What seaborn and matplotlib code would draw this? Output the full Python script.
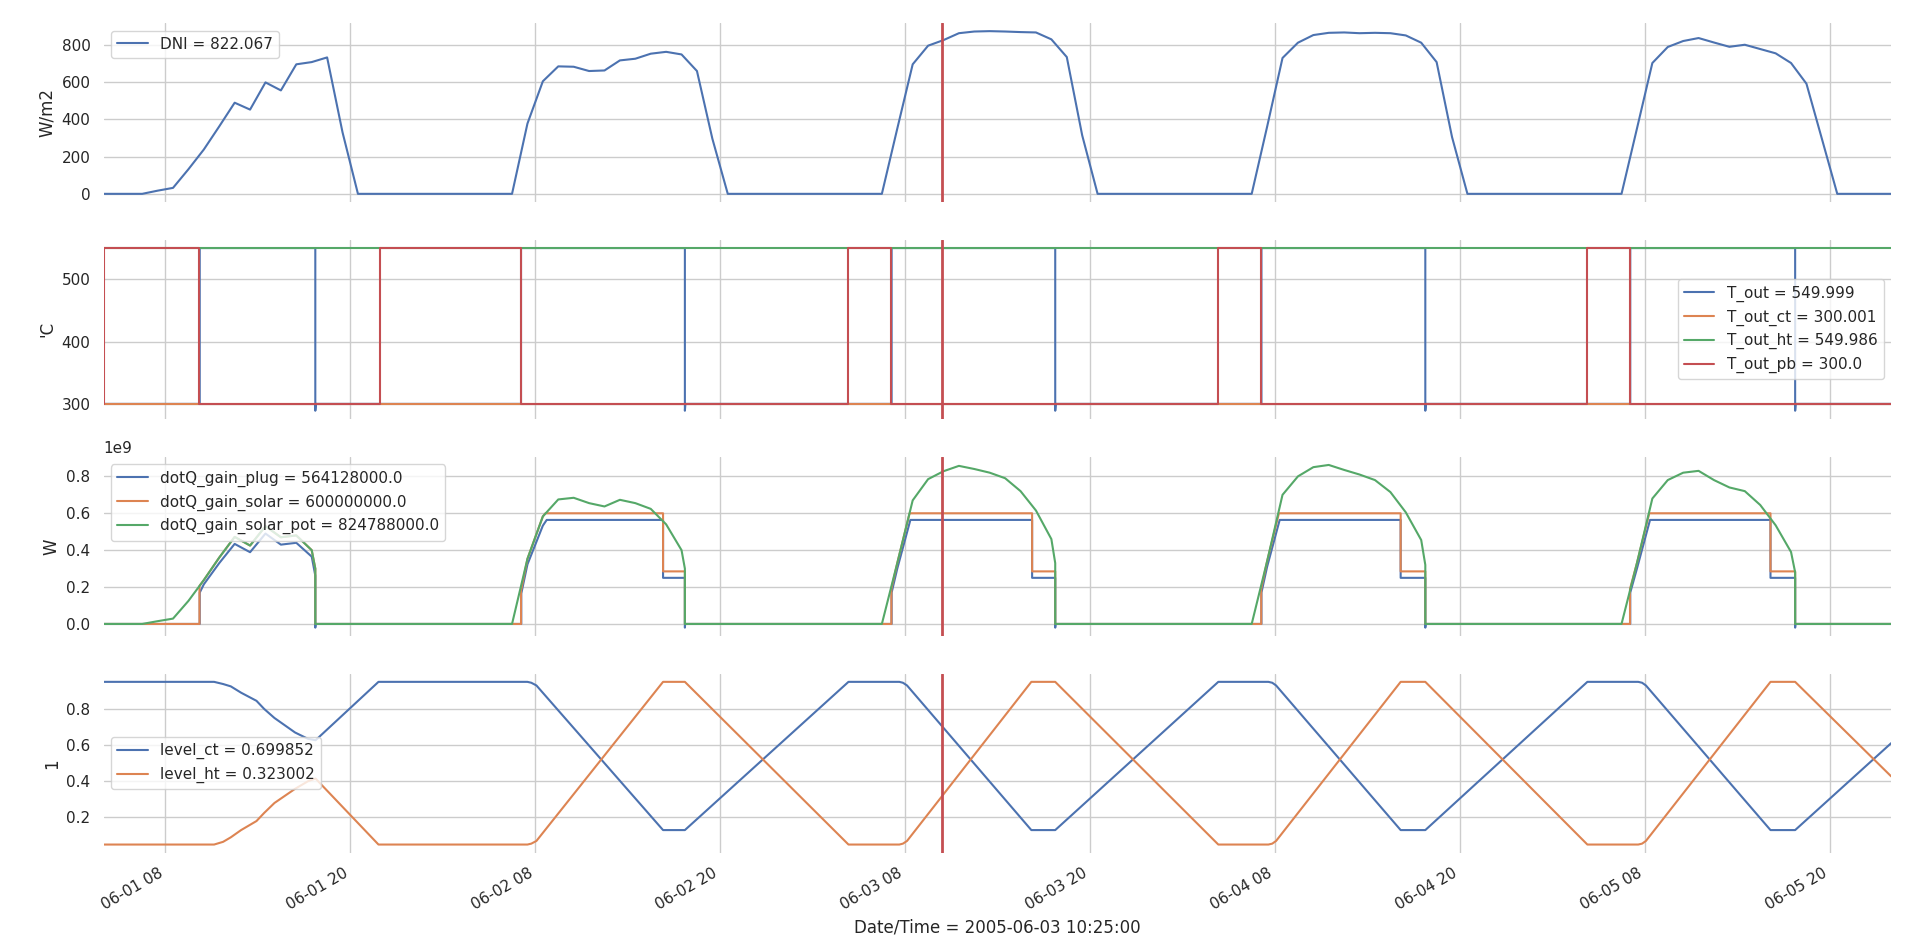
import matplotlib
matplotlib.use("Agg")
import matplotlib.pyplot as plt
import matplotlib.dates as mdates
from matplotlib.ticker import ScalarFormatter
import numpy as np
import pandas as pd
import seaborn as sns

# ---------------- data ----------------
DAYS = ["01", "02", "03", "04", "05"]
START = "01 04:00"
END = "06 00:00"
CURSOR = "03 10:25"

# DNI, hourly samples at hh:30 from 07:30 to 19:30 (06:30 and 20:30 are 0)
DNI_DAY = [
    [17, 32, 132, 238, 362, 489, 452, 598, 555, 695, 707, 732, 330],
    [377, 604, 684, 682, 659, 662, 716, 725, 752, 762, 748, 659, 296],
    [350, 695, 795, 825, 862, 871, 873, 871, 868, 866, 829, 734, 314],
    [360, 729, 811, 852, 864, 866, 862, 864, 862, 850, 811, 707, 305],
    [350, 702, 788, 820, 836, 812, 789, 800, 777, 754, 702, 591, 296],
]

# T_out
T_OUT_T = ["01 04:00", "01 10:14", "01 10:14", "01 17:44", "01 17:44", "01 17:46",
           "02 07:05", "02 07:05", "02 17:43", "02 17:43", "02 17:45",
           "03 07:08", "03 07:08", "03 17:45", "03 17:45", "03 17:47",
           "04 07:08", "04 07:08", "04 17:46", "04 17:46", "04 17:48",
           "05 07:04", "05 07:04", "05 17:46", "05 17:46", "05 17:48", "06 00:00"]
T_OUT_V = [300, 300, 550, 550, 289, 300,
           300, 550, 550, 289, 300,
           300, 550, 550, 289, 300,
           300, 550, 550, 289, 300,
           300, 550, 550, 289, 300, 300]
T_OUT_CT_T = ["01 04:00", "06 00:00"]
T_OUT_CT_V = [300.0, 300.0]
T_OUT_HT_T = ["01 04:00", "06 00:00"]
T_OUT_HT_V = [549.8, 549.8]
T_OUT_PB_T = ["01 04:00", "01 04:00", "01 10:13", "01 10:13", "01 21:54", "01 21:54",
              "02 07:04", "02 07:04", "03 04:20", "03 04:20", "03 07:07", "03 07:07",
              "04 04:20", "04 04:20", "04 07:07", "04 07:07", "05 04:17", "05 04:17",
              "05 07:03", "05 07:03", "06 00:00"]
T_OUT_PB_V = [300, 550, 550, 300, 300, 550,
              550, 300, 300, 550, 550, 300,
              300, 550, 550, 300, 300, 550,
              550, 300, 300]

# dotQ_gain_solar_pot (1e9 W), hourly at hh:30 from 06:30 to 17:30, then cut-off
POT_DAY = [
    [0, 0.015, 0.029, 0.125, 0.238, 0.36, 0.472, 0.425, 0.53, 0.47, 0.48, 0.40],
    [0, 0.353, 0.583, 0.675, 0.684, 0.655, 0.637, 0.673, 0.655, 0.624, 0.54, 0.40],
    [0, 0.33, 0.67, 0.785, 0.828, 0.857, 0.84, 0.82, 0.79, 0.72, 0.615, 0.46],
    [0, 0.34, 0.70, 0.80, 0.85, 0.862, 0.835, 0.81, 0.78, 0.715, 0.605, 0.455],
    [0, 0.33, 0.68, 0.78, 0.82, 0.83, 0.78, 0.74, 0.72, 0.645, 0.535, 0.39],
]
POT_CUT_T = ["01 17:44", "02 17:43", "03 17:45", "04 17:46", "05 17:46"]
POT_CUT_V = [0.30, 0.30, 0.33, 0.32, 0.28]

# dotQ_gain_solar (1e9 W)
SOLAR_T = ["01 04:00", "01 10:13", "01 10:13", "01 10:30", "01 11:30", "01 12:30", "01 13:30",
           "01 14:30", "01 15:30", "01 16:30", "01 17:30", "01 17:44", "01 17:44",
           "02 07:05", "02 07:05", "02 07:30", "02 08:30", "02 08:40", "02 16:18", "02 16:18",
           "02 17:43", "02 17:43",
           "03 07:07", "03 07:07", "03 07:30", "03 08:18", "03 16:15", "03 16:15", "03 17:45", "03 17:45",
           "04 07:07", "04 07:07", "04 07:30", "04 08:16", "04 16:10", "04 16:10", "04 17:46", "04 17:46",
           "05 07:03", "05 07:03", "05 07:30", "05 08:18", "05 16:10", "05 16:10", "05 17:46", "05 17:46",
           "06 00:00"]
SOLAR_V = [0, 0, 0.206, 0.238, 0.36, 0.472, 0.425, 0.53, 0.47, 0.48, 0.40, 0.30, 0,
           0, 0.18, 0.353, 0.583, 0.6, 0.6, 0.285, 0.285, 0,
           0, 0.19, 0.33, 0.6, 0.6, 0.285, 0.285, 0,
           0, 0.19, 0.34, 0.6, 0.6, 0.285, 0.285, 0,
           0, 0.19, 0.33, 0.6, 0.6, 0.285, 0.285, 0,
           0]

# dotQ_gain_plug (1e9 W)
PLUG_T = ["01 04:00", "01 10:14", "01 10:14", "01 10:30", "01 11:30", "01 12:30", "01 13:30",
          "01 14:30", "01 15:30", "01 16:30", "01 17:30", "01 17:44", "01 17:44", "01 17:45",
          "02 07:06", "02 07:06", "02 07:30", "02 08:30", "02 08:45", "02 16:18", "02 16:18",
          "02 17:43", "02 17:43", "02 17:44",
          "03 07:08", "03 07:08", "03 07:30", "03 08:21", "03 16:15", "03 16:15", "03 17:45", "03 17:45", "03 17:46",
          "04 07:08", "04 07:08", "04 07:30", "04 08:19", "04 16:10", "04 16:10", "04 17:46", "04 17:46", "04 17:47",
          "05 07:04", "05 07:04", "05 07:30", "05 08:21", "05 16:10", "05 16:10", "05 17:46", "05 17:46", "05 17:47",
          "06 00:00"]
PLUG_V = [0, 0, 0.17, 0.215, 0.33, 0.434, 0.389, 0.49, 0.43, 0.44, 0.365, 0.262, -0.02, 0,
          0, 0.165, 0.323, 0.533, 0.564, 0.564, 0.25, 0.25, -0.02, 0,
          0, 0.17, 0.30, 0.564, 0.564, 0.25, 0.25, -0.02, 0,
          0, 0.17, 0.31, 0.564, 0.564, 0.25, 0.25, -0.02, 0,
          0, 0.17, 0.30, 0.564, 0.564, 0.25, 0.25, -0.02, 0,
          0]

# storage levels
LEVEL_T = ["01 04:00", "01 11:10", "01 11:45", "01 12:15", "01 12:55", "01 13:55", "01 14:25",
           "01 15:05", "01 16:25", "01 17:15", "01 17:45", "01 21:50",
           "02 07:30", "02 07:45", "02 08:05", "02 16:18", "02 17:43",
           "03 04:20", "03 07:38", "03 07:52", "03 08:08", "03 16:12", "03 17:45",
           "04 04:20", "04 07:35", "04 07:50", "04 08:05", "04 16:10", "04 17:46",
           "05 04:17", "05 07:35", "05 07:50", "05 08:05", "05 16:10", "05 17:46",
           "06 00:00"]
LEVEL_CT = [0.95, 0.95, 0.938, 0.925, 0.89, 0.845, 0.80, 0.75, 0.67, 0.635, 0.627, 0.95,
            0.95, 0.945, 0.93, 0.13, 0.13,
            0.95, 0.95, 0.945, 0.93, 0.13, 0.13,
            0.95, 0.95, 0.945, 0.93, 0.13, 0.13,
            0.95, 0.95, 0.945, 0.93, 0.13, 0.13,
            0.611]
LEVEL_HT = [0.05, 0.05, 0.065, 0.09, 0.13, 0.18, 0.225, 0.28, 0.358, 0.40, 0.415, 0.05,
            0.05, 0.055, 0.07, 0.95, 0.95,
            0.05, 0.05, 0.055, 0.07, 0.95, 0.95,
            0.05, 0.05, 0.055, 0.07, 0.95, 0.95,
            0.05, 0.05, 0.055, 0.07, 0.95, 0.95,
            0.427]

LABELS_T = ["T_out = 549.999", "T_out_ct = 300.001", "T_out_ht = 549.986", "T_out_pb = 300.0"]
LABELS_Q = ["dotQ_gain_plug = 564128000.0", "dotQ_gain_solar = 600000000.0",
            "dotQ_gain_solar_pot = 824788000.0"]
LABELS_L = ["level_ct = 0.699852", "level_ht = 0.323002"]
LABEL_DNI = "DNI = 822.067"
XLABEL = "Date/Time = 2005-06-03 10:25:00"


def ts(lst):
    return pd.to_datetime(["2005-06-" + s for s in lst])


# build DNI and pot series from the hourly readings
dni_t, dni_v = [ts([START])[0]], [0.0]
pot_t, pot_v = [ts([START])[0]], [0.0]
for d, vals, pvals, ct, cv in zip(DAYS, DNI_DAY, POT_DAY, POT_CUT_T, POT_CUT_V):
    hrs = pd.date_range(f"2005-06-{d} 06:30", periods=15, freq="h")
    dni_t += list(hrs)
    dni_v += [0] + vals + [0]
    pot_t += list(hrs[:12]) + list(ts([ct, ct]))
    pot_v += pvals + [cv, 0]
dni_t.append(ts([END])[0]); dni_v.append(0)
pot_t.append(ts([END])[0]); pot_v.append(0)

# ---------------- plotting ----------------
sns.set_theme(style="whitegrid")
plt.rcParams["font.family"] = ["DejaVu Sans"]
pal = sns.color_palette("deep")

fig, axes = plt.subplots(4, 1, figsize=(19.2, 9.47), dpi=100, sharex=True)
fig.subplots_adjust(left=0.054, right=0.985, top=0.9757, bottom=0.0996, hspace=0.212)

kw = dict(sort=False, estimator=None, errorbar=None)

ax = axes[0]
sns.lineplot(x=pd.Series(dni_t), y=np.array(dni_v, float), ax=ax, color=pal[0], label=LABEL_DNI, **kw)
ax.legend(loc="upper left")
ax.set_ylabel("W/m2")

ax = axes[1]
for (tt, vv), lab, c in zip([(T_OUT_T, T_OUT_V), (T_OUT_CT_T, T_OUT_CT_V),
                             (T_OUT_HT_T, T_OUT_HT_V), (T_OUT_PB_T, T_OUT_PB_V)],
                            LABELS_T, pal[:4]):
    sns.lineplot(x=pd.Series(ts(tt)), y=np.array(vv, float), ax=ax, color=c, label=lab, **kw)
ax.legend(loc="center right")
ax.set_ylabel("'C")

ax = axes[2]
for (tt, vv), lab, c in zip([(ts(PLUG_T), PLUG_V), (ts(SOLAR_T), SOLAR_V), (pot_t, pot_v)],
                            LABELS_Q, pal[:3]):
    sns.lineplot(x=pd.Series(tt), y=np.array(vv, float) * 1e9, ax=ax, color=c, label=lab, **kw)
ax.legend(loc="upper left")
ax.set_ylabel("W")
fmt = ScalarFormatter()
fmt.set_powerlimits((9, 9))
ax.yaxis.set_major_formatter(fmt)

ax = axes[3]
for vv, lab, c in zip([LEVEL_CT, LEVEL_HT], LABELS_L, pal[:2]):
    sns.lineplot(x=pd.Series(ts(LEVEL_T)), y=np.array(vv, float), ax=ax, color=c, label=lab, **kw)
ax.legend(loc="center left")
ax.set_ylabel("1")

cursor = ts([CURSOR])[0]
for ax in axes:
    ax.axvline(cursor, color=pal[3], lw=2)
    ax.set_xlabel("")

axes[0].set_xlim(ts([START])[0], ts([END])[0])
axes[-1].xaxis.set_major_locator(mdates.HourLocator(byhour=[8, 20]))
axes[-1].xaxis.set_major_formatter(mdates.DateFormatter("%m-%d %H"))
for lab in axes[-1].get_xticklabels():
    lab.set_rotation(30)
    lab.set_ha("right")
axes[-1].set_xlabel(XLABEL)

sns.despine(fig=fig, left=True, bottom=True)
fig.savefig("out.png", dpi=100)
